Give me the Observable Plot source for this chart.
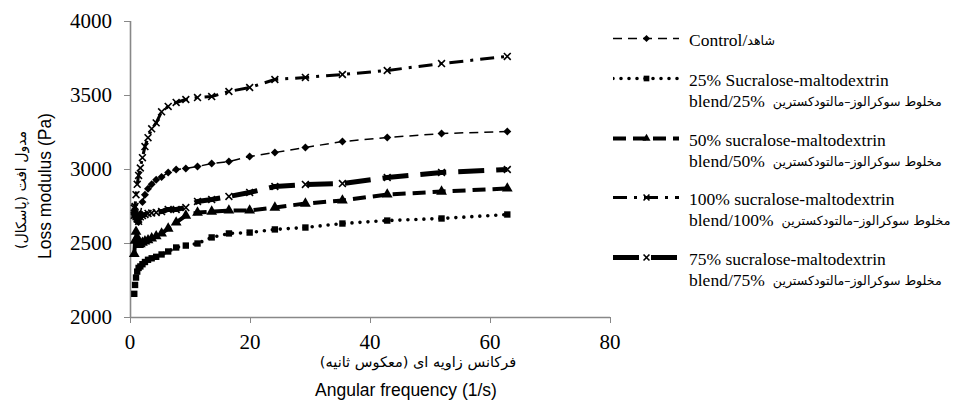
<!DOCTYPE html>
<html><head><meta charset="utf-8">
<script src="https://cdn.jsdelivr.net/npm/d3@7"></script>
<script src="https://cdn.jsdelivr.net/npm/@observablehq/plot@0.6"></script>
<style>
body{margin:0;background:#fff;}
#wrap{position:relative;width:953px;height:414px;overflow:hidden;}
#wrap > svg{position:absolute;left:0;top:0;}
.row{position:absolute;display:flex;align-items:center;height:22px;white-space:nowrap;}
.lat{font-family:"Liberation Serif",serif;font-size:17.5px;color:#000;}
.fa{font-family:"DejaVu Sans",sans-serif;font-size:12.6px;color:#000;}
.lbl{position:absolute;white-space:nowrap;color:#000;line-height:1;}
.tick{font-family:"Liberation Serif",serif;font-size:21px;}
.en{font-family:"Liberation Sans",Arial,sans-serif;font-size:17.5px;}
.fat{font-family:"DejaVu Sans",sans-serif;}
</style></head>
<body><div id="wrap"></div>
<script>
// Angular frequency (1/s)
const frequency = [0.628, 0.76, 0.92, 1.12, 1.35, 1.64, 1.99, 2.41, 2.92, 3.53, 4.28, 5.18, 6.28, 7.61, 9.22, 11.17, 13.53, 16.40, 19.86, 24.06, 29.15, 35.32, 42.79, 51.84, 62.8];
// Loss modulus (Pa)
const control = [2700, 2690, 2670, 2650, 2645, 2700, 2780, 2830, 2870, 2900, 2930, 2950, 2980, 3000, 3007, 3020, 3041, 3054, 3088, 3115, 3149, 3189, 3216, 3243, 3257];
const blend25 = [2160, 2220, 2270, 2310, 2335, 2345, 2360, 2375, 2390, 2400, 2410, 2426, 2446, 2473, 2486, 2500, 2541, 2568, 2574, 2595, 2608, 2635, 2655, 2669, 2696];
const blend50 = [2430, 2520, 2580, 2540, 2490, 2495, 2505, 2515, 2522, 2535, 2550, 2568, 2601, 2642, 2689, 2709, 2716, 2723, 2723, 2743, 2770, 2791, 2831, 2851, 2872];
const blend100 = [2690, 2750, 2830, 2900, 2960, 3010, 3080, 3155, 3215, 3275, 3315, 3390, 3426, 3453, 3473, 3486, 3493, 3527, 3554, 3608, 3622, 3642, 3669, 3716, 3764];
const blend75 = [2740, 2700, 2680, 2665, 2650, 2680, 2689, 2695, 2703, 2706, 2709, 2716, 2730, 2730, 2743, 2784, 2797, 2818, 2845, 2885, 2899, 2905, 2946, 2980, 3000];

const xTicks = [0, 20, 40, 60, 80];
const yTicks = [2000, 2500, 3000, 3500, 4000];
const yTitleEn = "Loss modulus (Pa)";
const yTitleFa = "مدول افت (پاسکال)";
const xTitleEn = "Angular frequency (1/s)";
const xTitleFa = "فرکانس زاویه ای (معکوس ثانیه)";
const faBlend = "مخلوط سوکرالوز–مالتودکسترین";

const series = [
  {key:"control", values: control, line1:"Control/", fa1:"شاهد", line2:null,
   dash:"9,6", width:1.5, cap:"butt", symbol:"diamond2", r:3.6, lr:3.2, top:40},
  {key:"b25", values: blend25, line1:"25% Sucralose-maltodextrin", line2:"blend/25%",
   dash:"0,8", width:3.6, cap:"round", symbol:"square", r:3.6, lr:3.2, top:80},
  {key:"b50", values: blend50, line1:"50% sucralose-maltodextrin", line2:"blend/50%",
   dash:"13,7", width:4, cap:"butt", symbol:"triangle", r:4, lr:3, top:140},
  {key:"b100", values: blend100, line1:"100% sucralose-maltodextrin", line2:"blend/100%",
   dash:"14,7,3,7", width:3, cap:"butt", symbol:"times", r:3.2, lr:2.8, top:199},
  {key:"b75", values: blend75, line1:"75% sucralose-maltodextrin", line2:"blend/75%",
   dash:"26,12", width:5, cap:"butt", symbol:"times", r:3.2, lr:2.8, top:259}
];

const marks = [];
for (const s of series) {
  const rows = frequency.map((f, i) => ({x: f, y: s.values[i]}));
  marks.push(Plot.line(rows, {x:"x", y:"y", stroke:"black", strokeWidth:s.width, strokeDasharray:s.dash, strokeLinecap:s.cap}));
  if (s.symbol === "times") {
    marks.push(Plot.dot(rows, {x:"x", y:"y", symbol:"times", r:s.r, stroke:"black", strokeWidth:1.6, fill:"none"}));
  } else {
    marks.push(Plot.dot(rows, {x:"x", y:"y", symbol:s.symbol, r:s.r, fill:"black", stroke:"none"}));
  }
}

const chart = Plot.plot({
  width: 953, height: 414,
  marginLeft: 130, marginRight: 343, marginTop: 21, marginBottom: 97,
  style: {background: "white", color: "black"},
  x: {domain: [0, 80]},
  y: {domain: [2000, 4000]},
  marks: [
    Plot.axisY({ticks: yTicks, tickSize: 6, stroke: "#888", fill: "none", label: null, tickFormat: () => ""}),
    Plot.axisX({ticks: xTicks, tickSize: 6, stroke: "#888", fill: "none", label: null, tickFormat: () => ""}),
    Plot.ruleX([0], {stroke: "#888", strokeWidth: 1.6}),
    Plot.ruleY([2000], {stroke: "#888", strokeWidth: 1.6}),
    ...marks
  ]
});
const wrap = document.getElementById("wrap");
wrap.appendChild(chart);

function label(text, cls, left, top, transform, extra) {
  const d = document.createElement("div");
  d.className = "lbl " + cls;
  d.textContent = text;
  d.style.left = left + "px";
  d.style.top = top + "px";
  d.style.transform = transform;
  if (extra) Object.assign(d.style, extra);
  wrap.appendChild(d);
  return d;
}

// Tick labels positioned through Plot's scales
const sx = chart.scale("x"), sy = chart.scale("y");
const x0 = sx.apply(0), yBase = sy.apply(2000);
for (const v of yTicks) label(String(v), "tick", x0 - 18, sy.apply(v), "translate(-100%,-50%)");
for (const v of xTicks) label(String(v), "tick", sx.apply(v), yBase + 25, "translate(-50%,-50%)");

// Axis titles
label(yTitleEn, "en", 46, 186, "translate(-50%,-50%) rotate(-90deg)");
label(yTitleFa, "fat", 21, 190, "translate(-50%,-50%) rotate(-90deg)", {fontSize: "14px", direction: "rtl"});
label(xTitleFa, "fat", 418, 362, "translate(-50%,-50%)", {fontSize: "14.5px", direction: "rtl"});
label(xTitleEn, "en", 406, 391, "translate(-50%,-50%)");

// Legend
const swatchDomain = [-1, 1];
for (const s of series) {
  const sw = Plot.plot({
    width: 66, height: 22, margin: 0,
    x: {domain: swatchDomain, axis: null},
    y: {domain: swatchDomain, axis: null},
    marks: [
      Plot.ruleY([0], {stroke: "black", strokeWidth: s.width, strokeDasharray: s.dash, strokeLinecap: s.cap}),
      s.symbol === "times"
        ? Plot.dot([0], {frameAnchor: "middle", symbol: "times", r: s.lr, stroke: "black", strokeWidth: 1.6, fill: "none"})
        : Plot.dot([0], {frameAnchor: "middle", symbol: s.symbol, r: s.lr, fill: "black", stroke: "none"})
    ]
  });
  const row = document.createElement("div");
  row.className = "row";
  row.style.left = "613px";
  row.style.top = (s.top - 11) + "px";
  sw.style.marginRight = "10px";
  sw.style.marginTop = "-4px";
  row.appendChild(sw);
  const t = document.createElement("span");
  t.className = "lat"; t.textContent = s.line1;
  row.appendChild(t);
  if (s.fa1) {
    const f = document.createElement("span");
    f.className = "fa"; f.dir = "rtl"; f.textContent = s.fa1;
    row.appendChild(f);
  }
  wrap.appendChild(row);
  if (s.line2) {
    const row2 = document.createElement("div");
    row2.className = "row";
    row2.style.left = "689px";
    row2.style.top = (s.top + 21 - 11) + "px";
    const t2 = document.createElement("span");
    t2.className = "lat"; t2.textContent = s.line2;
    t2.style.marginRight = "8px";
    row2.appendChild(t2);
    const f2 = document.createElement("span");
    f2.className = "fa"; f2.dir = "rtl"; f2.textContent = faBlend;
    row2.appendChild(f2);
    wrap.appendChild(row2);
  }
}
</script>
</body></html>
